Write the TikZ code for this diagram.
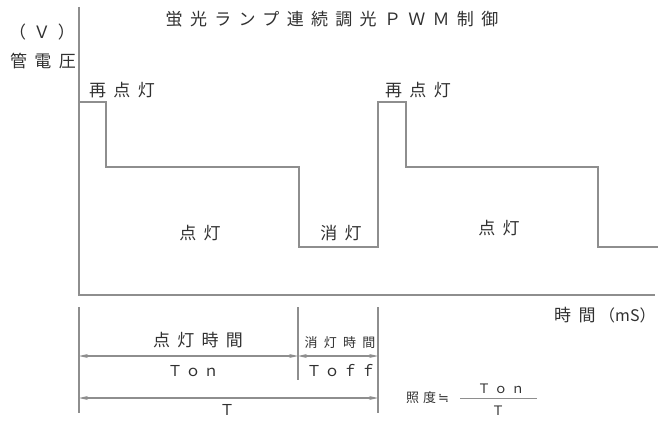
\documentclass[tikz,border=0pt]{standalone}
\usepackage{fontspec}
\setmainfont{Noto Sans CJK JP}
\newfontfamily\symfont{DejaVu Sans}
\usetikzlibrary{arrows.meta}
\definecolor{ln}{HTML}{8E8E8E}
\definecolor{tx}{HTML}{303030}
\tikzset{
  wave/.style={draw=ln, line width=1.3pt},
  extline/.style={draw=ln, line width=1.1pt},
  dimarrow/.style={draw=ln, line width=1.1pt, {Stealth[length=9pt,width=4pt]}-{Stealth[length=9pt,width=4pt]}},
  big/.style={text=tx, inner sep=0pt, font={\fontsize{17}{17}\selectfont\addfontfeatures{LetterSpace=43}}},
  plain/.style={text=tx, inner sep=0pt, font={\fontsize{16}{16}\selectfont}},
  mid/.style={text=tx, inner sep=0pt, font={\fontsize{13}{13}\selectfont\addfontfeatures{LetterSpace=48}}},
  lat/.style={text=tx, inner sep=0pt, font={\fontsize{15}{15}\selectfont\addfontfeatures{LetterSpace=20}}},
  small/.style={text=tx, inner sep=0pt, font={\fontsize{13}{13}\selectfont\addfontfeatures{LetterSpace=30}}},
}
\begin{document}
\begin{tikzpicture}[x=1pt,y=-1pt]
\useasboundingbox (0,0) rectangle (658,420);
% axes
\coordinate (ytop) at (79,7);
\coordinate (orig) at (79,295);
\coordinate (xend) at (655,295);
\draw[wave] (ytop) -- (orig) -- (xend);
% waveform
\coordinate (w0) at (79,102);
\coordinate (wend) at (658,247);
\draw[wave] (w0) -- (106,102) -- (106,167) -- (299,167) -- (299,247) -- (378,247)
  -- (378,102) -- (406,102) -- (406,167) -- (598,167) -- (598,247) -- (wend);
% texts
\node[big] (title) at (332,19) {蛍光ランプ連続調光ＰＷＭ制御};
\node[big] (unit) at (42,32) {（Ｖ）};
\node[big] (vlab) at (43,61) {管電圧};
\node[big] (re1) at (122,90) {再点灯};
\node[big] (re2) at (418,90) {再点灯};
\node[big] (on1) at (200,233) {点灯};
\node[big] (off1) at (341,233) {消灯};
\node[big] (on2) at (499,228) {点灯};
\node[big, anchor=west] (tlab) at (554,315) {時間};
\node[plain, anchor=west] (tunit) at (599,315) {（mS）};
% dimension lines
\coordinate (e1t) at (79,307);
\coordinate (e1b) at (79,413);
\coordinate (e2t) at (298,307);
\coordinate (e2b) at (298,380);
\coordinate (e3t) at (378,307);
\coordinate (e3b) at (378,413);
\draw[extline] (e1t) -- (e1b);
\draw[extline] (e2t) -- (e2b);
\draw[extline] (e3t) -- (e3b);
\coordinate (a1) at (79,356);
\coordinate (a2) at (298,356);
\coordinate (a3) at (378,356);
\coordinate (b1) at (79,398);
\coordinate (b3) at (378,398);
\draw[dimarrow] (a1) -- (a2);
\draw[dimarrow] (a2) -- (a3);
\draw[dimarrow] (b1) -- (b3);
\node[big] (ontime) at (198,340) {点灯時間};
\node[mid] (offtime) at (340,343) {消灯時間};
\node[lat] (ton) at (193,371) {Ｔｏｎ};
\node[lat] (toff) at (341,371) {Ｔｏｆｆ};
\node[lat] (tt) at (227,410) {Ｔ};
% illuminance formula
\node[small, anchor=west] (illum) at (406,398) {照度\hspace{2pt}{\symfont ≒}};
\coordinate (f1) at (460,398);
\coordinate (f2) at (537,398);
\draw[draw=ln, line width=1pt] (f1) -- (f2);
\node[small] (fnum) at (501,389) {Ｔｏｎ};
\node[small] (fden) at (498,411) {Ｔ};
\end{tikzpicture}
\end{document}
